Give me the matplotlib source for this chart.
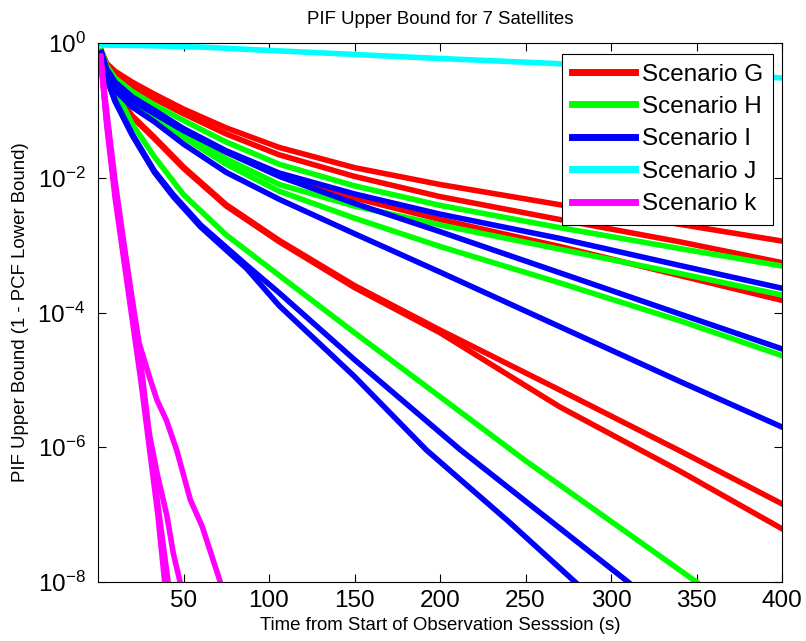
import numpy as np
import matplotlib.pyplot as plt
from matplotlib.ticker import NullLocator

plt.rcParams['font.family'] = ['Liberation Sans', 'DejaVu Sans']
plt.rcParams['mathtext.fontset'] = 'custom'
plt.rcParams['mathtext.rm'] = 'Liberation Sans'
plt.rcParams['mathtext.it'] = 'Liberation Sans:italic'

# time grid shared by most curves (s), values are log10 of the PIF bound
t_main = [2, 5, 10, 20, 33, 50, 75, 106, 150, 200, 270, 340, 400]

# Scenario G (red)
g1 = [-0.12, -0.30, -0.42, -0.58, -0.76, -0.98, -1.26, -1.55, -1.85, -2.10, -2.40, -2.69, -2.94]
g2 = [-0.12, -0.32, -0.48, -0.65, -0.83, -1.05, -1.35, -1.66, -1.98, -2.28, -2.62, -2.95, -3.26]
g3 = [-0.14, -0.40, -0.60, -0.82, -1.02, -1.28, -1.62, -1.96, -2.30, -2.62, -3.02, -3.45, -3.82]
g4 = [-0.15, -0.45, -0.75, -1.08, -1.40, -1.84, -2.40, -2.93, -3.60, -4.26, -5.15, -6.05, -6.84]
g5 = [-0.15, -0.46, -0.77, -1.10, -1.42, -1.86, -2.42, -2.95, -3.63, -4.30, -5.40, -6.35, -7.21]

# Scenario H (green)
h1 = [-0.12, -0.34, -0.52, -0.72, -0.92, -1.15, -1.47, -1.80, -2.12, -2.41, -2.74, -3.05, -3.31]
h2 = [-0.14, -0.40, -0.62, -0.86, -1.07, -1.35, -1.72, -2.10, -2.42, -2.70, -3.06, -3.42, -3.74]
h3 = [-0.15, -0.42, -0.65, -0.90, -1.10, -1.40, -1.80, -2.20, -2.60, -3.02, -3.56, -4.12, -4.64]
t_h4 = [2, 5, 10, 13, 20, 33, 50, 75, 106, 150, 200, 250, 300, 350]
h4 = [-0.15, -0.45, -0.72, -0.85, -1.20, -1.69, -2.25, -2.85, -3.45, -4.30, -5.25, -6.20, -7.10, -8.00]

# Scenario I (blue)
i1 = [-0.14, -0.38, -0.58, -0.80, -1.00, -1.27, -1.60, -1.93, -2.24, -2.54, -2.90, -3.30, -3.64]
i2 = [-0.15, -0.42, -0.63, -0.86, -1.05, -1.30, -1.62, -1.98, -2.38, -2.80, -3.41, -4.02, -4.54]
i3 = [-0.16, -0.45, -0.70, -0.95, -1.17, -1.50, -1.92, -2.32, -2.83, -3.40, -4.21, -5.02, -5.70]
t_i4 = [2, 5, 7, 10, 20, 33, 44, 60, 87, 106, 150, 212, 260, 310]
i4 = [-0.16, -0.50, -0.65, -0.85, -1.35, -1.90, -2.25, -2.70, -3.30, -3.71, -4.70, -6.04, -7.00, -8.00]
t_i5 = [2, 5, 7, 10, 20, 33, 44, 60, 87, 106, 150, 192, 240, 279]
i5 = [-0.16, -0.50, -0.66, -0.87, -1.37, -1.92, -2.28, -2.73, -3.35, -3.90, -4.95, -6.04, -7.10, -8.00]

# Scenario J (cyan)
t_j = [1, 30, 60, 100, 150, 200, 264, 330, 400]
j1 = [-0.03, -0.04, -0.06, -0.11, -0.17, -0.23, -0.30, -0.40, -0.52]

# Scenario k (magenta)
t_k1 = [1.5, 5, 10, 15, 20, 24, 30, 34.5, 40, 46, 54, 61, 71.5]
k1 = [-0.2, -1.0, -2.05, -2.95, -3.80, -4.45, -4.95, -5.30, -5.60, -6.04, -6.78, -7.18, -8.0]
t_k2 = [1.5, 5, 10, 15, 20, 25, 30, 35, 39]
k2 = [-0.2, -1.2, -2.3, -3.2, -4.1, -5.0, -6.0, -7.0, -8.0]
t_k3 = [1.5, 5, 10, 15, 20, 25, 30, 35, 41]
k3 = [-0.2, -1.15, -2.2, -3.1, -4.0, -4.9, -5.85, -6.85, -8.0]
t_k4 = [1.5, 5, 10, 15, 20, 25, 30, 34.5, 40.4, 44, 48]
k4 = [-0.2, -1.1, -2.15, -3.0, -3.9, -4.75, -5.8, -6.38, -7.03, -7.57, -8.0]

series = [
    ('Scenario G', 'red', [(t_main, g1), (t_main, g2), (t_main, g3), (t_main, g4), (t_main, g5)]),
    ('Scenario H', 'lime', [(t_main, h1), (t_main, h2), (t_main, h3), (t_h4, h4)]),
    ('Scenario I', 'blue', [(t_main, i1), (t_main, i2), (t_main, i3), (t_i4, i4), (t_i5, i5)]),
    ('Scenario J', 'cyan', [(t_j, j1)]),
    ('Scenario k', 'magenta', [(t_k1, k1), (t_k2, k2), (t_k3, k3), (t_k4, k4)]),
]

fig = plt.figure(figsize=(8.06, 6.41), dpi=100)
ax = fig.add_axes([98/806, 1-582/641, 684/806, 539/641])

for name, col, curves in series:
    for n, (t, v) in enumerate(curves):
        ax.semilogy(t, 10.0**np.array(v), color=col, lw=4,
                    label=name if n == 0 else '_nolegend_')

ax.set_xlim(0, 400)
ax.set_ylim(1e-8, 1)
ax.set_xticks([50, 100, 150, 200, 250, 300, 350, 400])
ax.set_yticks([1e-8, 1e-6, 1e-4, 1e-2, 1])
ax.yaxis.set_minor_locator(NullLocator())
ax.tick_params(direction='in', length=5.5, width=0.8, top=True, right=True,
               labelsize=17.5)
ax.tick_params(axis='x', pad=6)
ax.tick_params(axis='y', pad=9)

ax.set_title('PIF Upper Bound for 7 Satellites', fontsize=13.4, pad=14)
ax.set_xlabel('Time from Start of Observation Sesssion (s)', fontsize=13.4, labelpad=3)
ax.set_ylabel('PIF Upper Bound (1 - PCF Lower Bound)', fontsize=13.4, labelpad=6)

leg = ax.legend(loc='upper right', bbox_to_anchor=(0.987, 0.980), borderaxespad=0,
                fontsize=17.5, handlelength=2.6, handletextpad=0.3,
                labelspacing=0.43, fancybox=False, framealpha=1, edgecolor='black')
leg.get_frame().set_linewidth(0.8)
for line in leg.get_lines():
    line.set_linewidth(5)

fig.savefig('out.png', dpi=100)
